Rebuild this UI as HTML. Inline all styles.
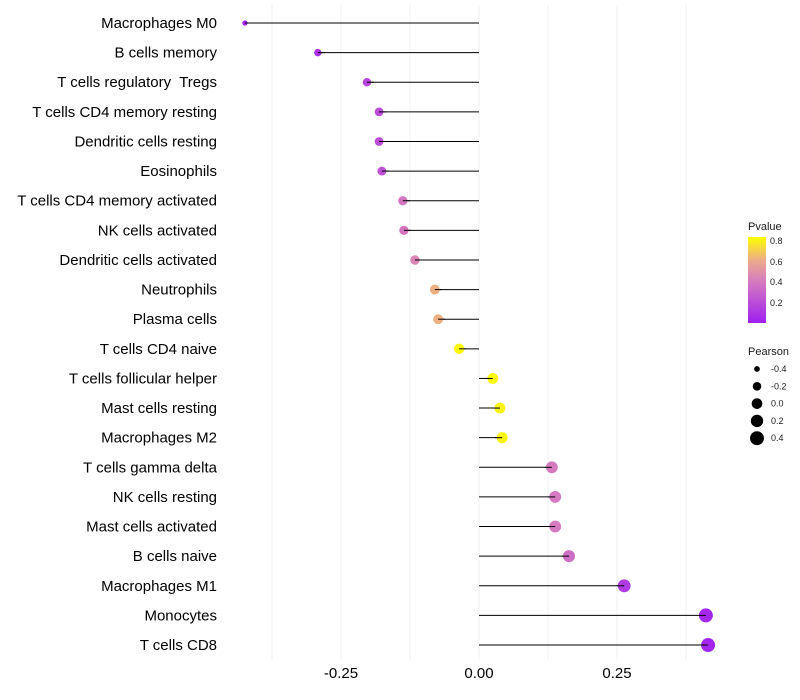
<!DOCTYPE html>
<html><head><meta charset="utf-8"><style>
body{margin:0;background:#fff;}
svg{display:block;font-family:"Liberation Sans",sans-serif;}
text{white-space:pre;}
</style></head><body>
<svg id="chart" width="800" height="700">
<defs><linearGradient id="pg" x1="0" y1="1" x2="0" y2="0">
<stop offset="0" stop-color="#a020f0"/><stop offset="0.48" stop-color="#d57ac0"/><stop offset="0.72" stop-color="#eba98e"/><stop offset="1" stop-color="#ffff00"/>
</linearGradient></defs>
<g id="grid"></g><g id="marks"></g><g id="labels"></g>
<g font-size="10" fill="#1a1a1a">
<text x="748" y="230" font-size="11">Pvalue</text>
<rect x="748" y="237" width="18" height="86" fill="url(#pg)"/>
<text x="770" y="244" font-size="9">0.8</text><text x="770" y="265" font-size="9">0.6</text>
<text x="770" y="285" font-size="9">0.4</text><text x="770" y="306" font-size="9">0.2</text>
<text x="748" y="355" font-size="11">Pearson</text>
<g id="sizeleg"></g>
</g>
</svg>
<script>
const cells=["Macrophages M0","B cells memory","T cells regulatory  Tregs","T cells CD4 memory resting","Dendritic cells resting","Eosinophils","T cells CD4 memory activated","NK cells activated","Dendritic cells activated","Neutrophils","Plasma cells","T cells CD4 naive","T cells follicular helper","Mast cells resting","Macrophages M2","T cells gamma delta","NK cells resting","Mast cells activated","B cells naive","Macrophages M1","Monocytes","T cells CD8"];
const pearson=[-0.424,-0.292,-0.203,-0.181,-0.181,-0.176,-0.138,-0.136,-0.116,-0.080,-0.074,-0.036,0.025,0.038,0.042,0.132,0.138,0.138,0.163,0.263,0.411,0.415];
const pvalue=[0.02,0.07,0.17,0.2,0.2,0.22,0.38,0.38,0.45,0.62,0.62,0.83,0.85,0.8,0.8,0.4,0.4,0.4,0.35,0.12,0.03,0.02];
const xTicks=[-0.25,0,0.25];
const xTickLabels=["-0.25","0.00","0.25"];
const sizeLegend=[-0.4,-0.2,0.0,0.2,0.4];
const NS="http://www.w3.org/2000/svg";
const X=v=>479+552*v;
const Y=i=>23+i*29.62;
const R=v=>Math.max(1.5,Math.sqrt(Math.max(0,28.3+50*v)));
const stops=[[0,[160,32,240]],[0.4,[213,122,192]],[0.6,[235,169,142]],[0.83,[255,255,0]]];
function col(p){p=Math.min(0.83,Math.max(0,p));for(let k=1;k<stops.length;k++){if(p<=stops[k][0]){const a=stops[k-1],b=stops[k],t=(p-a[0])/(b[0]-a[0]);return"rgb("+a[1].map((c,j)=>Math.round(c+(b[1][j]-c)*t)).join(",")+")";}}return"rgb(255,255,0)";}
function mk(t,at,p){const e=document.createElementNS(NS,t);for(const k in at)e.setAttribute(k,at[k]);p.appendChild(e);return e;}
const grid=document.getElementById("grid"),marks=document.getElementById("marks"),labels=document.getElementById("labels");
for(let v=-0.375;v<=0.4;v+=0.125){const l=mk("line",{x1:X(v),x2:X(v),y1:5,y2:660,stroke:"#f0f0f0","stroke-width":1},grid);

}
xTicks.forEach((v,i)=>{const t=mk("text",{x:X(v),y:678,"text-anchor":"middle","font-size":"15",fill:"#000"},labels);t.textContent=xTickLabels[i];

});
cells.forEach((c,i)=>{const y=Y(i),v=pearson[i];
const t=mk("text",{x:217,y:y+5,"text-anchor":"end","font-size":"15",fill:"#000"},labels);t.textContent=c;


const l=mk("line",{x1:X(0),x2:X(v),y1:y,y2:y,stroke:"#000","stroke-width":1},marks);


const d=mk("circle",{cx:X(v),cy:y,r:R(v),fill:col(pvalue[i])},marks);


const l2=mk("line",{x1:X(v),x2:X(v)+(v<0?7:-7),y1:y,y2:y,stroke:"#000","stroke-width":1},marks);

});
const sl=document.getElementById("sizeleg");
sizeLegend.forEach((v,i)=>{const y=369+i*17.3;
const c=mk("circle",{cx:757,cy:y,r:R(v),fill:"#000"},sl);


const t=mk("text",{x:771,y:y+3,"font-size":"9"},sl);t.textContent=v.toFixed(1);

});
</script>
</body></html>
